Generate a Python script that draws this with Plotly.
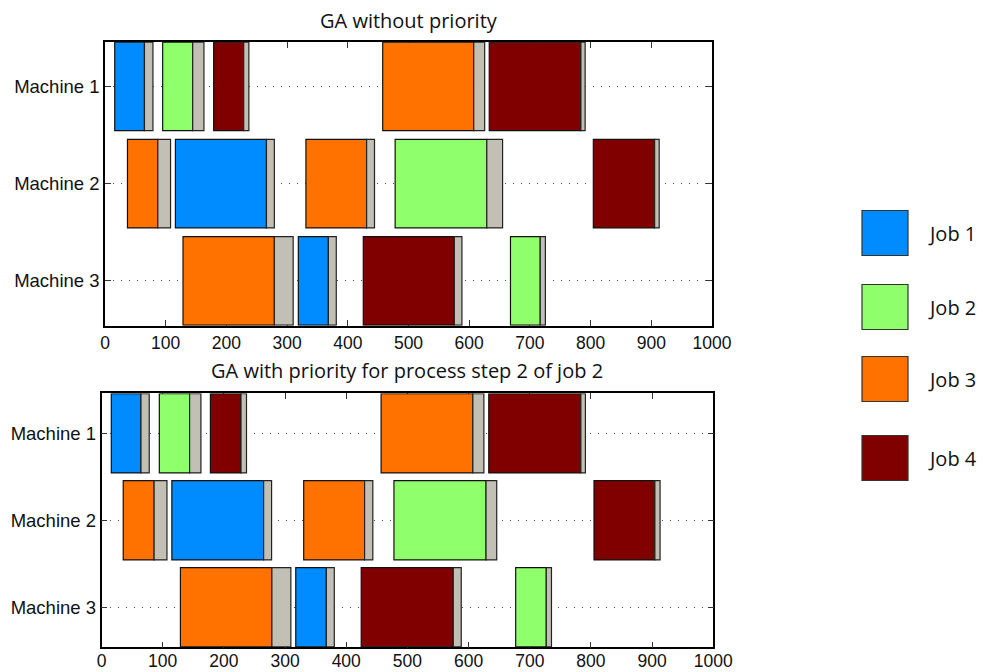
import plotly.graph_objects as go

# ---------------- data ----------------
machine_labels = ["Machine 1", "Machine 2", "Machine 3"]
job_names = ["Job 1", "Job 2", "Job 3", "Job 4"]
job_colors = ["#008cff", "#90ff6c", "#ff7200", "#800000"]
setup_color = "#c2bfb4"
x_ticks = [0, 100, 200, 300, 400, 500, 600, 700, 800, 900, 1000]

# GA without priority
top_machine = [1, 1, 1, 1, 1, 2, 2, 2, 2, 2, 3, 3, 3, 3]
top_job = [1, 2, 4, 3, 4, 3, 1, 3, 2, 4, 3, 1, 4, 2]
top_start = [16, 95, 179, 457.5, 633, 37, 116, 331, 478, 804.5, 128.5, 318.5, 425.5, 668]
top_proc = [49, 49.5, 49.5, 150, 151, 50, 150, 100, 151, 101, 150.5, 49.5, 150, 49]
top_setup = [14, 18.5, 8.5, 18, 7, 21, 13, 13, 26, 7.5, 31, 13, 12.5, 8.5]

# GA with priority for process step 2 of job 2
bot_machine = [1, 1, 1, 1, 1, 2, 2, 2, 2, 2, 3, 3, 3, 3]
bot_job = [1, 2, 4, 3, 4, 3, 1, 3, 2, 4, 3, 1, 4, 2]
bot_start = [16, 94.5, 178, 457, 633, 35.5, 115, 330.5, 478, 805, 129, 317.5, 424.5, 677]
bot_proc = [48.5, 49.5, 50, 150, 150.5, 50.5, 150, 99.5, 150.5, 99.5, 149.5, 50, 150.5, 50]
bot_setup = [13.5, 18.5, 9, 18, 7.5, 21, 13, 13.5, 17.5, 8.5, 31, 13, 13, 8.5]

titles = ["GA without priority", "GA with priority for process step 2 of job 2"]

# ---------------- figure ----------------
W, H = 983, 672
fig = go.Figure()

BAR_W = 0.91
TICK_FONT = dict(family="Liberation Sans, Arial, sans-serif", size=17.5, color="#111111")
YTICK_FONT = dict(family="Liberation Sans, Arial, sans-serif", size=18.5, color="#111111")
TITLE_FONT = dict(family="Open Sans, sans-serif", size=20, color="#111111")


def add_chart(machine, job, start, proc, setup, xa, ya):
    for j in range(4):
        idx = [i for i in range(len(job)) if job[i] == j + 1]
        fig.add_trace(go.Bar(
            orientation="h",
            y=[machine[i] for i in idx],
            x=[proc[i] for i in idx],
            base=[start[i] for i in idx],
            width=BAR_W,
            marker=dict(color=job_colors[j], line=dict(color="#111111", width=1.2)),
            xaxis=xa, yaxis=ya, showlegend=False, hoverinfo="skip",
        ))
    fig.add_trace(go.Bar(
        orientation="h",
        y=machine,
        x=setup,
        base=[start[i] + proc[i] for i in range(len(start))],
        width=BAR_W,
        marker=dict(color=setup_color, line=dict(color="#222222", width=1.2)),
        xaxis=xa, yaxis=ya, showlegend=False, hoverinfo="skip",
    ))


add_chart(top_machine, top_job, top_start, top_proc, top_setup, "x", "y")
add_chart(bot_machine, bot_job, bot_start, bot_proc, bot_setup, "x2", "y2")

xdom_top = [105 / W, 712 / W]
xdom_bot = [101.5 / W, 713.3 / W]
ydom_top = [1 - 325.7 / H, 1 - 41.7 / H]
ydom_bot = [1 - 647.3 / H, 1 - 393.3 / H]

common_x = dict(
    range=[0, 1000], tickvals=x_ticks, ticktext=[str(v) for v in x_ticks],
    ticks="inside", ticklen=6, tickwidth=1, tickcolor="#333333",
    showline=True, linewidth=1.6, linecolor="#000000", mirror="ticks",
    showgrid=False, zeroline=False, tickfont=TICK_FONT, layer="below traces",
    fixedrange=True, automargin=False,
)
common_y = dict(
    range=[3.46, 0.54], tickvals=[1, 2, 3], ticktext=machine_labels,
    ticks="inside", ticklen=6, tickwidth=1, tickcolor="#333333",
    showline=True, linewidth=1.6, linecolor="#000000", mirror="ticks",
    showgrid=True, gridcolor="#555555", gridwidth=1, griddash="1px,7px",
    zeroline=False, tickfont=YTICK_FONT, layer="below traces",
    fixedrange=True, automargin=False,
)

fig.update_layout(
    width=W, height=H,
    margin=dict(l=0, r=0, t=0, b=0, pad=0),
    paper_bgcolor="white", plot_bgcolor="white",
    barmode="overlay",
    showlegend=False,
    xaxis=dict(domain=xdom_top, anchor="y", **common_x),
    yaxis=dict(domain=ydom_top, anchor="x", **common_y),
    xaxis2=dict(domain=xdom_bot, anchor="y2", ticklabelstandoff=-3, **common_x),
    yaxis2=dict(domain=ydom_bot, anchor="x2", **common_y),
)

# titles
fig.add_annotation(x=(105 + 712) / 2 / W, y=1 - 20 / H, xref="paper", yref="paper",
                   text=titles[0], showarrow=False, font=TITLE_FONT,
                   xanchor="center", yanchor="middle")
fig.add_annotation(x=(101.5 + 713.3) / 2 / W, y=1 - 370 / H, xref="paper", yref="paper",
                   text=titles[1], showarrow=False, font=TITLE_FONT,
                   xanchor="center", yanchor="middle")

# legend (custom large swatches)
legend_centers = [233, 307, 379, 458]
for j in range(4):
    yc = legend_centers[j]
    fig.add_shape(type="rect", xref="paper", yref="paper",
                  x0=862 / W, x1=908 / W,
                  y0=1 - (yc + 22.5) / H, y1=1 - (yc - 22.5) / H,
                  fillcolor=job_colors[j], line=dict(color="#333333", width=1.2))
    fig.add_annotation(x=926 / W, y=1 - yc / H, xref="paper", yref="paper",
                       text=job_names[j], showarrow=False,
                       font=dict(family="Open Sans, sans-serif", size=20, color="#111111"),
                       xanchor="left", yanchor="middle")

fig.write_html("out.html", config={"responsive": False})
